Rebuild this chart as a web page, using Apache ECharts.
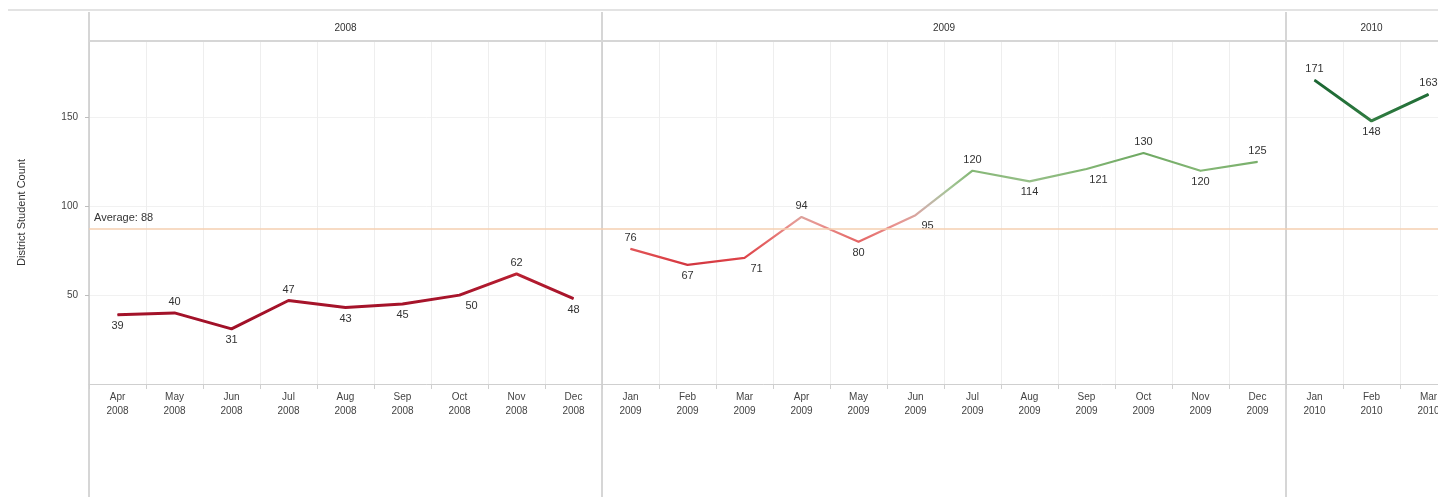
<!DOCTYPE html>
<html>
<head>
<meta charset="utf-8">
<title>District Student Count</title>
<script src="https://cdn.jsdelivr.net/npm/echarts@6/dist/echarts.min.js"></script>
<style>
  html, body { margin: 0; padding: 0; background: #fff; }
  #chart { width: 1438px; height: 497px; }
</style>
</head>
<body>
<div id="chart"></div>
<script>
// months on the x axis
const months = [
  'Apr 2008', 'May 2008', 'Jun 2008', 'Jul 2008', 'Aug 2008', 'Sep 2008', 'Oct 2008', 'Nov 2008', 'Dec 2008',
  'Jan 2009', 'Feb 2009', 'Mar 2009', 'Apr 2009', 'May 2009', 'Jun 2009', 'Jul 2009', 'Aug 2009', 'Sep 2009',
  'Oct 2009', 'Nov 2009', 'Dec 2009',
  'Jan 2010', 'Feb 2010', 'Mar 2010'
]
const studentCounts = [
  39, 40, 31, 47, 43, 45, 50, 62, 48,
  76, 67, 71, 94, 80, 95, 120, 114, 121, 130, 120, 125,
  171, 148, 163
]
const yTicks = [50, 100, 150]
// where each value label sits: above, below, or below-right
const labelSides = [
  'bottom', 'top', 'bottom', 'top', 'bottom', 'bottom', 'br', 'top', 'bottom',
  'top', 'bottom', 'br', 'top', 'bottom', 'br', 'top', 'bottom', 'br', 'top', 'bottom', 'top',
  'top', 'bottom', 'top'
]

const FONT = "'Liberation Sans', Arial, sans-serif"
const lineWidths = { '2008': 3, '2009': 2.2, '2010': 3 }

// year panels (built from the month list)
const years = [...new Set(months.map(m => m.split(' ')[1]))]
const yearStarts = years.map(y => months.findIndex(m => m.endsWith(y)))
const yearCenters = years.map((y, i) => {
  const count = months.filter(m => m.endsWith(y)).length
  return yearStarts[i] + count / 2
})

const avg = studentCounts.reduce((a, b) => a + b, 0) / studentCounts.length

const labelFor = (i) => ({
  position: labelSides[i] === 'top' ? 'top' : 'bottom',
  offset: labelSides[i] === 'br' ? [12, 0] : [0, 0]
})

const series = years.map((year, yi) => ({
  type: 'line',
  name: year,
  xAxisIndex: 0,
  yAxisIndex: 0,
  data: months.map((m, i) => m.endsWith(year)
    ? { value: studentCounts[i], label: labelFor(i) }
    : null),
  symbol: 'circle',
  symbolSize: 1,
  showSymbol: true,
  connectNulls: false,
  lineStyle: { width: lineWidths[year] },
  label: {
    show: true,
    fontSize: 11,
    fontFamily: FONT,
    color: '#333',
    distance: 5
  },
  z: 3,
  markLine: yi === 0 ? {
    silent: true,
    symbol: 'none',
    lineStyle: { color: '#f5cfb0', width: 1.5, type: 'solid' },
    label: {
      position: 'insideStartTop',
      fontSize: 11,
      fontFamily: FONT,
      color: '#333',
      formatter: 'Average: ' + Math.round(avg)
    },
    data: [{ yAxis: avg }]
  } : undefined
}))

const option = {
  animation: false,
  backgroundColor: '#fff',
  textStyle: { fontFamily: FONT },
  graphic: [{
    type: 'line',
    silent: true,
    shape: { x1: 8, y1: 10, x2: 1438, y2: 10 },
    style: { stroke: '#e3e3e3', lineWidth: 2 }
  }],
  visualMap: {
    type: 'continuous',
    show: false,
    seriesIndex: [0, 1, 2],
    min: 30,
    max: 170,
    inRange: {
      color: [
        '#a01028', '#a31229', '#a8152b', '#b51d30', '#dc4046', '#e46464', '#e99490',
        '#c8b4ab', '#a3c495', '#84b775', '#6ea862', '#4c9050', '#2f7a40', '#237038', '#1c6633'
      ]
    }
  },
  grid: [
    { left: 89, top: 41, width: 1368, height: 343, outerBoundsMode: 'none' },
    { left: 89, top: 12, width: 1368, bottom: 0, outerBoundsMode: 'none' }
  ],
  xAxis: [
    {
      type: 'category',
      gridIndex: 0,
      data: months,
      boundaryGap: true,
      axisLine: { lineStyle: { color: '#cfcfcf' } },
      axisTick: { show: true, length: 5, lineStyle: { color: '#cfcfcf' } },
      axisLabel: {
        interval: 0,
        margin: 6,
        fontSize: 10,
        lineHeight: 14,
        color: '#444',
        formatter: v => v.replace(' ', '\n')
      },
      splitLine: { show: true, lineStyle: { color: '#eeeeee' } }
    },
    {
      // year panels: separators + headers
      type: 'value',
      gridIndex: 1,
      position: 'top',
      min: 0,
      max: months.length,
      axisLine: { show: false },
      axisTick: { show: false, customValues: yearStarts },
      splitLine: { show: true, lineStyle: { color: '#c8c8c8', width: 1.5 } },
      axisLabel: {
        inside: true,
        margin: 11,
        fontSize: 10,
        color: '#333',
        customValues: yearCenters,
        formatter: v => years[yearCenters.indexOf(v)] || ''
      }
    },
    {
      // header bottom line
      type: 'category',
      gridIndex: 0,
      position: 'top',
      data: months,
      axisLine: { lineStyle: { color: '#d6d6d6', width: 2 } },
      axisTick: { show: false },
      axisLabel: { show: false }
    }
  ],
  yAxis: [
    {
      type: 'value',
      gridIndex: 0,
      min: 0,
      max: 193,
      name: 'District Student Count',
      nameLocation: 'middle',
      nameGap: 62,
      nameTextStyle: { fontSize: 11, color: '#333' },
      axisLine: { show: false },
      axisTick: { show: true, length: 4, customValues: yTicks, lineStyle: { color: '#bdbdbd' } },
      axisLabel: { customValues: yTicks, fontSize: 10, color: '#444', margin: 11 },
      splitLine: { show: true, lineStyle: { color: '#f1f1f1' } }
    },
    { type: 'value', gridIndex: 1, show: false }
  ],
  series: series
}

const chart = echarts.init(document.getElementById('chart'))
chart.setOption(option)
window.addEventListener('resize', () => chart.resize())
</script>
</body>
</html>
